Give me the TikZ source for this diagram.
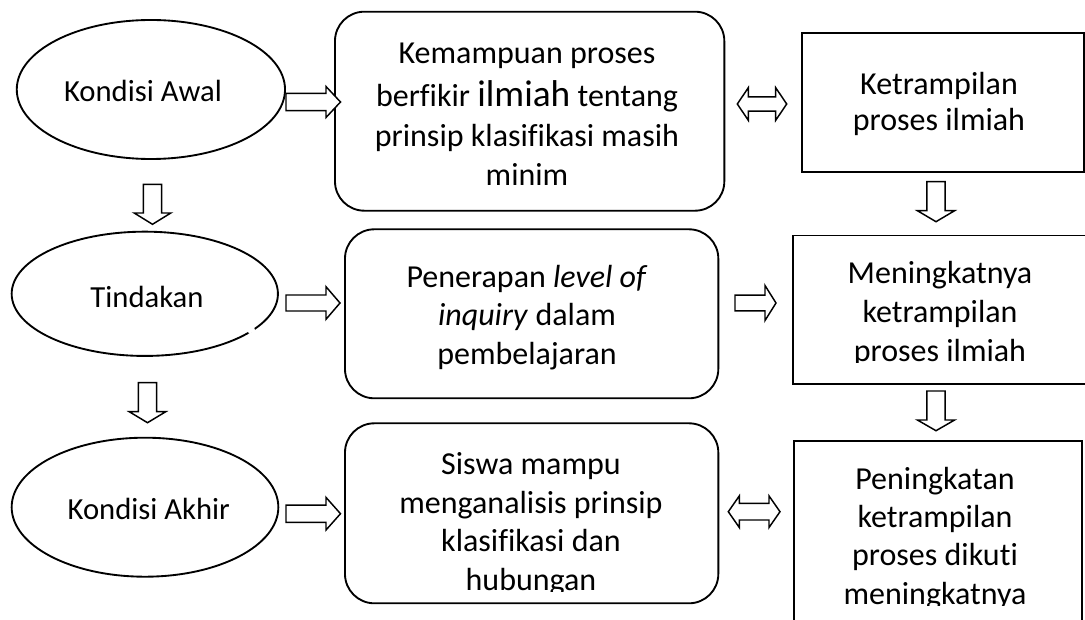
\documentclass[tikz,border=0pt]{standalone}
\usepackage{fontspec}
\setmainfont{Carlito}[Ligatures={NoCommon}]
\usetikzlibrary{shapes.geometric}
\newcommand\blkR[6]{\draw[barrow] (#1,{#4-#5}) -- (#2,{#4-#5}) -- (#2,{#4-#6}) -- (#3,#4) -- (#2,{#4+#6}) -- (#2,{#4+#5}) -- (#1,{#4+#5}) -- cycle;}
\newcommand\blkD[6]{\draw[barrow] ({#1-#5},#2) -- ({#1-#5},#3) -- ({#1-#6},#3) -- (#1,#4) -- ({#1+#6},#3) -- ({#1+#5},#3) -- ({#1+#5},#2) -- cycle;}
\newcommand\blkLR[6]{\draw[barrow] (#1,#3) -- ({#1+#6},{#3-#5}) -- ({#1+#6},{#3-#4}) -- ({#2-#6},{#3-#4}) -- ({#2-#6},{#3-#5}) -- (#2,#3) -- ({#2-#6},{#3+#5}) -- ({#2-#6},{#3+#4}) -- ({#1+#6},{#3+#4}) -- ({#1+#6},{#3+#5}) -- cycle;}
\tikzset{
  shapeline/.style={draw=black, line width=1.4pt, inner sep=0pt},
  ell/.style={shapeline, ellipse},
  rbox/.style={shapeline, rectangle, rounded corners=22pt},
  sbox/.style={shapeline, rectangle},
  barrow/.style={draw=black, line width=1.1pt, fill=white, line join=miter},
  txt/.style={anchor=base, inner sep=0pt, font=\fontsize{24}{29}\selectfont},
  etxt/.style={anchor=base, inner sep=0pt, font=\fontsize{23}{28}\selectfont},
}
\begin{document}
\begin{tikzpicture}[x=0.75pt,y=-0.75pt]
\useasboundingbox (0,0) rectangle (1085,620);
\begin{scope}
\clip (0,0) rectangle (1085,620);
% ellipses
\node[ell, minimum width=201.2pt, minimum height=104.25pt] (e1) at (150.9,89.5) {};
\node[ell, minimum width=199.7pt, minimum height=93.2pt] (e2) at (144.8,293.8) {};
\node[ell, minimum width=200pt, minimum height=104.25pt] (e3) at (145,507.2) {};
\draw[white, line width=2.6pt] (248.3,332.2) -- (254.8,329.4);
% rounded boxes
\node[rbox, minimum width=292pt, minimum height=149.25pt] (b1) at (529.65,111.2) {};
\node[rbox, minimum width=280pt, minimum height=126.75pt] (b2) at (531.65,313.8) {};
\node[rbox, minimum width=280pt, minimum height=135pt] (b3) at (531.65,513.3) {};
% square boxes
\node[sbox, minimum width=211.5pt, minimum height=104.25pt] (r1) at (943.3,102.8) {};
\node[sbox, minimum width=230pt, minimum height=111.4pt] (r2) at (946.65,309.75) {};
\node[sbox, minimum width=216pt, minimum height=156.75pt] (r3) at (938.3,545.5) {};
\end{scope}
% ellipse texts
\node[etxt] (t1) at (143,101.7) {Kondisi Awal};
\node[etxt] (t2) at (147,307) {Tindakan};
\node[etxt] (t3) at (148.8,519) {Kondisi Akhir};
% box 1
\begin{scope}
\clip (335,11) rectangle (725,187);
\node[txt] (b1a) at (527,64) {Kemampuan proses};
\node[txt] (b1b) at (527,107) {berfikir {\fontsize{28}{32}\selectfont ilmiah} tentang};
\node[txt] (b1c) at (527,147) {prinsip klasifikasi masih};
\node[txt] (b1d) at (527,186) {minim};
\end{scope}
% box 2
\node[txt] (b2a) at (527,287) {Penerapan \textit{level of}};
\node[txt] (b2b) at (527,325.5) {\textit{inquiry} dalam};
\node[txt] (b2c) at (527,364) {pembelajaran};
% box 3
\begin{scope}
\clip (345,423) rectangle (719,591);
\node[txt] (b3a) at (531,474.5) {Siswa mampu};
\node[txt] (b3b) at (531,513) {menganalisis prinsip};
\node[txt] (b3c) at (531,551.5) {klasifikasi dan};
\node[txt] (b3d) at (531,590) {hubungan};
\end{scope}
% rect 1
\node[txt] (r1a) at (939,94.5) {Ketrampilan};
\node[txt] (r1b) at (939,131) {proses ilmiah};
% rect 2
\begin{scope}
\clip (794,236) rectangle (1085,362);
\node[txt] (r2a) at (940,284) {Meningkatnya};
\node[txt] (r2b) at (940,322.5) {ketrampilan};
\node[txt] (r2c) at (940,361) {proses ilmiah};
\end{scope}
% rect 3
\begin{scope}
\clip (795,441) rectangle (1082,605);
\node[txt] (r3a) at (935,489) {Peningkatan};
\node[txt] (r3b) at (935,527) {ketrampilan};
\node[txt] (r3c) at (935,565.5) {proses dikuti};
\node[txt] (r3d) at (935,604) {meningkatnya};
\end{scope}
% block arrows
\blkR{286}{326}{340.5}{102}{8.7}{15.5}
\blkR{286}{326}{340}{303}{8}{16.3}
\blkR{286}{326}{340.5}{513.7}{8.6}{16.3}
\blkR{735}{765}{776}{303}{7.8}{17.5}
\blkD{152.5}{184.3}{213}{224.3}{9.2}{18.3}
\blkD{147.5}{382.7}{411.7}{422.7}{9.2}{18.3}
\blkD{936}{181.7}{210.7}{221.7}{9.2}{18.6}
\blkD{936}{391}{420}{430.7}{9.2}{18.6}
\blkLR{737.3}{786.7}{104}{7.2}{16.3}{11}
\blkLR{728.3}{780}{511.7}{8.3}{15.8}{11}
\end{tikzpicture}
\end{document}
